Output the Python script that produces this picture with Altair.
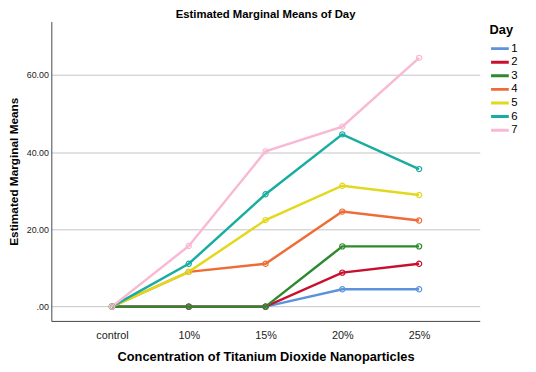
import altair as alt
import pandas as pd

concentrations = ["control", "10%", "15%", "20%", "25%"]
days = ["1", "2", "3", "4", "5", "6", "7"]
day1 = [0, 0, 0, 4.5, 4.5]
day2 = [0, 0, 0, 8.8, 11.1]
day3 = [0, 0, 0, 15.6, 15.6]
day4 = [0, 9.0, 11.1, 24.6, 22.3]
day5 = [0, 9.0, 22.4, 31.3, 28.9]
day6 = [0, 11.1, 29.1, 44.6, 35.6]
day7 = [0, 15.7, 40.2, 46.6, 64.4]
colors = ["#5B93DC", "#C8102E", "#2C8A2C", "#EE6C35", "#E2D81C", "#18ADA0", "#F9B8D3"]

series = [day1, day2, day3, day4, day5, day6, day7]
rows = []
for d, vals in zip(days, series):
    for i, (c, v) in enumerate(zip(concentrations, vals)):
        rows.append({"Concentration": c, "Day": d, "Mean": v, "idx": i})
df = pd.DataFrame(rows)

font = "Liberation Sans"

x = alt.X("Concentration:N", sort=concentrations,
          scale=alt.Scale(type="point", padding=0.79),
          axis=alt.Axis(title="Concentration of Titanium Dioxide Nanoparticles",
                        labelAngle=0, ticks=False, grid=False, domainColor="#444444",
                        labelFontSize=11, labelColor="#222222", labelPadding=9,
                        titleFontSize=13, titleFontWeight="bold", titlePadding=10,
                        titleColor="#000000"))
y = alt.Y("Mean:Q", scale=alt.Scale(domain=[-3.7, 73.8], nice=False, zero=False),
          axis=alt.Axis(title="Estimated Marginal Means", values=[0, 20, 40, 60],
                        labelExpr="datum.value == 0 ? '.00' : format(datum.value, '.2f')",
                        ticks=False, grid=True, gridColor="#c4c4c4", gridWidth=1,
                        domainColor="#444444", labelFontSize=9, labelColor="#222222",
                        labelPadding=3, titleFontSize=12, titleFontWeight="bold",
                        titlePadding=6, titleColor="#000000"))
color = alt.Color("Day:N", sort=days, scale=alt.Scale(domain=days, range=colors),
                  legend=alt.Legend(title="Day", orient="none", legendX=445, legendY=3,
                                    symbolType="stroke", symbolSize=324,
                                    symbolStrokeWidth=3, labelFontSize=11.5,
                                    titleFontSize=13, titleFontWeight="bold",
                                    clipHeight=11, rowPadding=1.8, labelOffset=1,
                                    titlePadding=6))

lines = alt.Chart(df).mark_line(strokeWidth=2.5).encode(
    x=x, y=y, color=color, order=alt.Order("idx:Q"))
pts = alt.Chart(df).mark_point(shape="circle", filled=False, size=28, strokeWidth=1.2, opacity=1).encode(
    x=x, y=y, color=alt.Color("Day:N", scale=alt.Scale(domain=days, range=colors), legend=None))

chart = alt.layer(lines, pts).properties(
    width=435, height=304,
    title=alt.TitleParams("Estimated Marginal Means of Day", fontSize=11.5, fontWeight="bold",
                          anchor="middle", offset=1, color="#000000"),
    autosize=alt.AutoSizeParams(type="none"),
    padding={"left": 44, "top": 11, "right": 49, "bottom": 41},
).configure(font=font).configure_view(stroke=None)

chart.save("out.html", embed_options={"renderer": "svg", "actions": False})
